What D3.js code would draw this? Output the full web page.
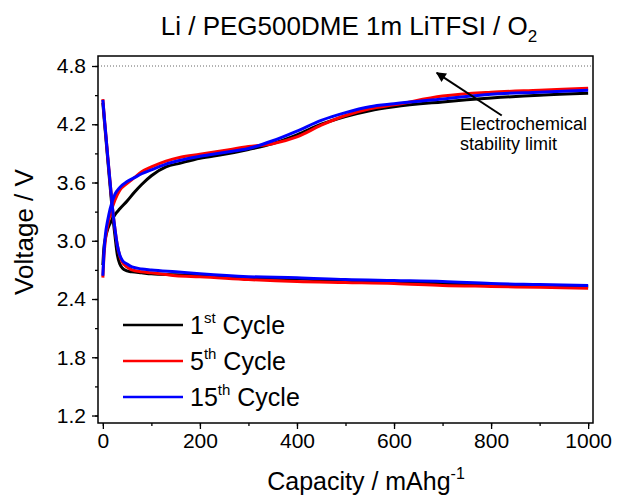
<!DOCTYPE html>
<html lang="en">
  <head>
    <meta charset="utf-8" />
    <title>Li / PEG500DME cycling</title>
    <script src="https://cdn.jsdelivr.net/npm/d3@7"></script>
    <style>
      body { margin: 0; background: #fff; }
      text { font-family: "Liberation Sans", Arial, sans-serif; fill: #000; }
    </style>
  </head>
  <body>
    <script>
      // capacity grids (mAh/g)
      var chargeCap = [0, 2, 5, 10, 15, 25, 35, 50, 65, 80, 100, 130, 160, 200, 250, 300, 350, 400, 450, 500, 550, 600, 700, 800, 900, 1000];
      var dischargeCap = [0, 3, 6, 10, 15, 20, 25, 30, 35, 40, 50, 60, 80, 100, 150, 200, 300, 400, 500, 600, 700, 800, 900, 1000];

      // voltages
      var charge1 = [2.75, 2.92, 3.02, 3.12, 3.18, 3.27, 3.33, 3.41, 3.5, 3.58, 3.67, 3.76, 3.8, 3.85, 3.89, 3.94, 4.0, 4.09, 4.2, 4.28, 4.34, 4.38, 4.43, 4.47, 4.5, 4.52];
      var charge5 = [2.62, 2.82, 3.0, 3.16, 3.27, 3.42, 3.52, 3.59, 3.65, 3.71, 3.76, 3.82, 3.86, 3.89, 3.93, 3.97, 4.0, 4.07, 4.19, 4.29, 4.36, 4.4, 4.49, 4.53, 4.55, 4.57];
      var charge15 = [2.64, 2.85, 3.05, 3.21, 3.33, 3.48, 3.55, 3.61, 3.65, 3.69, 3.73, 3.79, 3.83, 3.87, 3.91, 3.95, 4.03, 4.13, 4.24, 4.32, 4.38, 4.41, 4.46, 4.51, 4.53, 4.55];

      var discharge1 = [4.42, 4.24, 4.07, 3.84, 3.56, 3.28, 3.05, 2.85, 2.76, 2.72, 2.69, 2.68, 2.67, 2.66, 2.65, 2.64, 2.62, 2.61, 2.59, 2.58, 2.56, 2.55, 2.54, 2.53];
      var discharge5 = [4.46, 4.27, 4.1, 3.87, 3.6, 3.33, 3.12, 2.95, 2.84, 2.78, 2.73, 2.7, 2.68, 2.67, 2.64, 2.63, 2.6, 2.58, 2.57, 2.56, 2.54, 2.53, 2.52, 2.51];
      var discharge15 = [4.45, 4.27, 4.1, 3.87, 3.6, 3.33, 3.12, 2.95, 2.85, 2.8, 2.76, 2.73, 2.71, 2.7, 2.68, 2.66, 2.63, 2.62, 2.6, 2.59, 2.58, 2.56, 2.55, 2.54];

      var cycles = ["1", "5", "15"];
      var cycleSup = ["st", "th", "th"];
      var colors = ["#000000", "#ff0000", "#0000ff"];

      var xTicks = [0, 200, 400, 600, 800, 1000];
      var yTicks = [1.2, 1.8, 2.4, 3.0, 3.6, 4.2, 4.8];
      var stabilityLimit = 4.8;

      var w = 618;
      var h = 497;
      var margin = { top: 56, right: 25, bottom: 74, left: 98 };

      var x = d3.scaleLinear().domain([-10, 1010]).range([margin.left, w - margin.right]);
      var y = d3.scaleLinear().domain([1.123, 4.903]).range([h - margin.bottom, margin.top]);

      var svg = d3.select("body").append("svg").attr("width", w).attr("height", h);

      // arrow marker
      svg.append("defs").append("marker")
        .attr("id", "arrow")
        .attr("viewBox", "0 0 10 10")
        .attr("refX", 9).attr("refY", 5)
        .attr("markerWidth", 11).attr("markerHeight", 10)
        .attr("markerUnits", "userSpaceOnUse")
        .attr("orient", "auto")
        .append("path").attr("d", "M0,0 L10,5 L0,10 z").attr("fill", "#000");

      // dotted stability limit
      svg.append("line")
        .attr("x1", margin.left).attr("x2", w - margin.right)
        .attr("y1", y(stabilityLimit)).attr("y2", y(stabilityLimit))
        .attr("stroke", "#666").attr("stroke-width", 1)
        .attr("stroke-dasharray", "1,2");

      var line = d3.line()
        .x(function (d) { return x(d[0]); })
        .y(function (d) { return y(d[1]); })
        .curve(d3.curveMonotoneX);

      var series = [
        { charge: charge1, discharge: discharge1 },
        { charge: charge5, discharge: discharge5 },
        { charge: charge15, discharge: discharge15 }
      ];

      svg.append("clipPath").attr("id", "plot")
        .append("rect")
        .attr("x", margin.left).attr("y", margin.top)
        .attr("width", w - margin.left - margin.right)
        .attr("height", h - margin.top - margin.bottom);

      var curves = svg.append("g").attr("clip-path", "url(#plot)");
      series.forEach(function (s, i) {
        curves.append("path")
          .datum(d3.zip(dischargeCap, s.discharge))
          .attr("d", line)
          .attr("fill", "none")
          .attr("stroke", colors[i])
          .attr("stroke-width", 3);
        curves.append("path")
          .datum(d3.zip(chargeCap, s.charge))
          .attr("d", line)
          .attr("fill", "none")
          .attr("stroke", colors[i])
          .attr("stroke-width", 3);
      });

      // frame
      svg.append("rect")
        .attr("x", margin.left).attr("y", margin.top)
        .attr("width", w - margin.left - margin.right)
        .attr("height", h - margin.top - margin.bottom)
        .attr("fill", "none").attr("stroke", "#000").attr("stroke-width", 1.5);

      // axes: minor ticks, then major ticks with labels
      svg.append("g")
        .attr("transform", "translate(0," + (h - margin.bottom) + ")")
        .call(d3.axisBottom(x).tickValues(d3.range(0, 1001, 100)).tickSize(3).tickFormat(""));
      svg.append("g")
        .attr("transform", "translate(0," + (h - margin.bottom) + ")")
        .call(d3.axisBottom(x).tickValues(xTicks).tickSize(6).tickPadding(4).tickFormat(d3.format("d")))
        .call(function (g) { g.selectAll("text").attr("font-size", 21).style("font-family", "Liberation Sans, Arial"); });

      svg.append("g")
        .attr("transform", "translate(" + margin.left + ",0)")
        .call(d3.axisLeft(y).tickValues(d3.range(1.2, 4.81, 0.3)).tickSize(3).tickFormat(""));
      svg.append("g")
        .attr("transform", "translate(" + margin.left + ",0)")
        .call(d3.axisLeft(y).tickValues(yTicks).tickSize(6).tickPadding(6).tickFormat(d3.format(".1f")))
        .call(function (g) { g.selectAll("text").attr("font-size", 21).style("font-family", "Liberation Sans, Arial"); });

      svg.selectAll(".domain").remove();
      svg.selectAll(".tick line").attr("stroke", "#000").attr("stroke-width", 1.3);

      // title
      var title = svg.append("text")
        .attr("x", 349)
        .attr("y", 35)
        .attr("text-anchor", "middle")
        .attr("font-size", 26);
      title.append("tspan").text("Li / PEG500DME 1m LiTFSI / O");
      title.append("tspan").attr("font-size", 17).attr("dy", 7).text("2");

      // axis titles
      var xt = svg.append("text")
        .attr("x", 366)
        .attr("y", 490)
        .attr("text-anchor", "middle")
        .attr("font-size", 25);
      xt.append("tspan").text("Capacity / mAhg");
      xt.append("tspan").attr("font-size", 16).attr("dy", -11).text("-1");

      svg.append("text")
        .attr("transform", "translate(33,232) rotate(-90)")
        .attr("text-anchor", "middle")
        .attr("font-size", 26)
        .text("Voltage / V");

      // legend
      var legendY = [325, 361, 397];
      cycles.forEach(function (c, i) {
        svg.append("line")
          .attr("x1", 123).attr("x2", 183)
          .attr("y1", legendY[i]).attr("y2", legendY[i])
          .attr("stroke", colors[i]).attr("stroke-width", 2.5);
        var t = svg.append("text")
          .attr("x", 190).attr("y", legendY[i] + 9)
          .attr("font-size", 25);
        t.append("tspan").text(c);
        t.append("tspan").attr("font-size", 15).attr("dy", -11).text(cycleSup[i]);
        t.append("tspan").attr("dy", 11).text(" Cycle");
      });

      // annotation
      svg.append("line")
        .attr("x1", x(822)).attr("y1", y(4.29))
        .attr("x2", x(688)).attr("y2", y(4.73))
        .attr("stroke", "#000").attr("stroke-width", 2)
        .attr("marker-end", "url(#arrow)");
      var note = svg.append("text").attr("font-size", 18);
      note.append("tspan").attr("x", x(736)).attr("y", y(4.14)).text("Electrochemical");
      note.append("tspan").attr("x", x(736)).attr("y", y(3.93)).text("stability limit");
    </script>
  </body>
</html>
